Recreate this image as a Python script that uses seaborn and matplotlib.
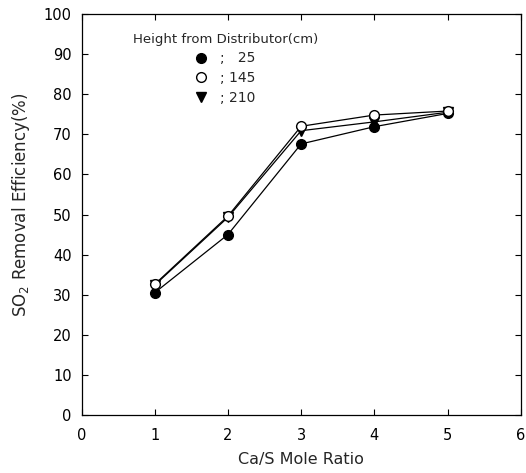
import matplotlib
matplotlib.use('Agg')
import matplotlib.pyplot as plt
import seaborn as sns
import pandas as pd

# Ca/S mole ratio and SO2 removal efficiency (%) per height from distributor
ca_s_ratio = [1, 2, 3, 4, 5]
eff_25 = [30.5, 45.0, 67.6, 71.9, 75.2]
eff_145 = [32.6, 49.6, 72.0, 74.8, 75.8]
eff_210 = [32.4, 49.3, 70.9, 73.1, 75.5]
heights = ['25', '145', '210']
legend_labels = ['; \u200725', '; 145', '; 210']
x_ticks = [0, 1, 2, 3, 4, 5, 6]
y_ticks = [0, 10, 20, 30, 40, 50, 60, 70, 80, 90, 100]

df = pd.DataFrame({
    'ratio': ca_s_ratio * 3,
    'eff': eff_25 + eff_145 + eff_210,
    'height': [h for h in heights for _ in ca_s_ratio],
})

sns.set_style('ticks')
plt.rcParams['font.family'] = ['DejaVu Sans']

fig = plt.figure(figsize=(5.26, 4.73), dpi=100)
ax = fig.add_axes([0.155, 0.1226, 0.835, 0.8478])

styles = {
    '25': dict(marker='o', mfc='black', mec='black'),
    '145': dict(marker='o', mfc='white', mec='black'),
    '210': dict(marker='v', mfc='black', mec='black'),
}
lab = dict(zip(heights, legend_labels))
# draw in order so open circles sit on top like the original
for h in ['25', '210', '145']:
    sub = df[df['height'] == h]
    sns.lineplot(data=sub, x='ratio', y='eff', ax=ax, color='black', lw=0.9,
                 markersize=7, mew=1.0, label=lab[h], **styles[h])

ax.set_xlim(0, 6)
ax.set_ylim(0, 100)
ax.set_xticks(x_ticks)
ax.set_yticks(y_ticks)
ax.tick_params(direction='in', top=True, right=True, length=4, width=0.8,
               labelsize=10.5, colors='black')
ax.tick_params(axis='x', pad=9)
ax.tick_params(axis='y', pad=7)
for s in ax.spines.values():
    s.set_linewidth(0.9)
    s.set_color('black')

ax.set_xlabel('Ca/S Mole Ratio', fontsize=11.5, labelpad=7)
ax.set_ylabel('SO$_2$ Removal Efficiency(%)', fontsize=12)
ax.yaxis.set_label_coords(-0.112, 0.524)

# legend in original order
handles, labels = ax.get_legend_handles_labels()
order = [labels.index(l) for l in legend_labels]
leg = ax.legend([handles[i] for i in order], [labels[i] for i in order],
                title='Height from Distributor(cm)', loc='upper left',
                bbox_to_anchor=(0.095, 0.978), frameon=False, fontsize=10,
                title_fontsize=9.5, handlelength=0.8, handletextpad=1.0,
                labelspacing=0.42, borderpad=0.2)
for line in leg.get_lines():
    line.set_linestyle('none')

fig.savefig('out.png', dpi=100)
